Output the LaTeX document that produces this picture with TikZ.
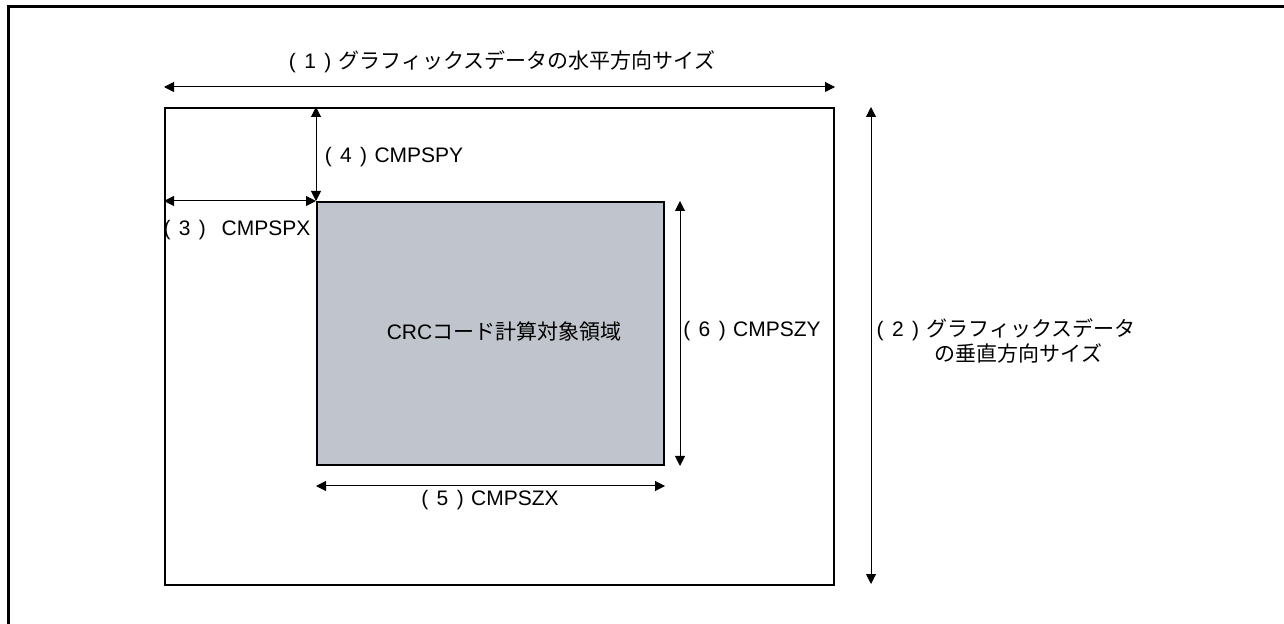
\documentclass[tikz,border=0pt]{standalone}
\usepackage{fontspec}
\setmainfont{Liberation Sans}
\newfontfamily\jpfont{Noto Sans CJK JP}
\newcommand{\jtext}[1]{{\jpfont #1}}
\newcommand{\dimno}[1]{(\hspace{0.4em}#1\hspace{0.4em})\hspace{0.35em}}
\usepackage{tikz}
\usetikzlibrary{arrows.meta, positioning, calc}
\definecolor{areagray}{RGB}{192,196,204}

\begin{document}
\begin{tikzpicture}[x=0.5pt, y=-0.5pt, >={Triangle[length=5pt, width=5pt]},
    dim/.style={<->, line width=0.5pt},
    lbl/.style={inner sep=0pt, font=\fontsize{10.5}{11}\selectfont}]
    \useasboundingbox (0,0) rectangle (1284,624);
    \draw[line width=1.4pt] (8.5,624) -- (8.5,6.5) -- (1284,6.5);

    % graphic data and CRC area
    \node[draw, line width=1pt, inner sep=0pt, minimum width=334.5pt,
          minimum height=238.5pt, anchor=north west] (data) at (164,107) {};
    \node[draw, fill=areagray, line width=1pt, inner sep=0pt, minimum width=173.5pt,
          minimum height=131.5pt, anchor=north west] (area) at (316,201) {};
    \node[lbl] (arealabel) at (504,332) {CRC\jtext{コード計算対象領域}};

    % dimension arrows
    \draw[dim] ($(data.north west)+(0,-20)$) -- ($(data.north east)+(0,-20)$);
    \draw[dim] ($(data.north east)+(36,0)$) -- ($(data.south east)+(36,-2)$);
    \draw[dim] (data.west |- area.north west) -- (area.north west);
    \draw[dim] (area.north west |- data.north) -- (area.north west);
    \draw[dim] ($(area.south west)+(0,20)$) -- ($(area.south east)+(0,20)$);
    \draw[dim] ($(area.north east)+(15,0)$) -- ($(area.south east)+(15,0)$);

    % labels
    \node[lbl] (sizeh) at (502,62) {\dimno{1}\jtext{グラフィックスデータの水平方向サイズ}};
    \node[lbl, align=center] (sizev) at (1006,341)
          {\dimno{2}\jtext{グラフィックスデータ}\\\hspace{1.2em}\jtext{の垂直方向サイズ}};
    \node[lbl] (spx) at (237,230) {\dimno{3}\hspace{0.4em}CMPSPX};
    \node[lbl] (spy) at (394,157) {\dimno{4}CMPSPY};
    \node[lbl] (szx) at (490,500) {\dimno{5}CMPSZX};
    \node[lbl] (szy) at (752,331) {\dimno{6}CMPSZY};
\end{tikzpicture}
\end{document}
